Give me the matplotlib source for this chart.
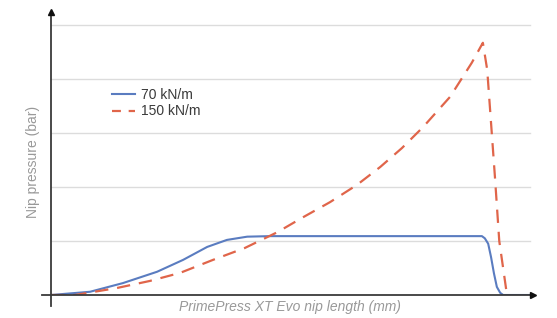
import matplotlib
matplotlib.use("Agg")
import matplotlib.pyplot as plt

# Data (arbitrary units)
x_70 = [0, 8.1, 14.9, 22.0, 27.4, 32.4, 36.5, 40.7, 45.4, 60, 75, 89.4, 90.0, 90.7, 91.3, 91.9, 92.5, 93.2, 93.8, 100]
y_70 = [0, 0.06, 0.22, 0.43, 0.65, 0.89, 1.02, 1.08, 1.09, 1.09, 1.09, 1.09, 1.05, 0.95, 0.7, 0.4, 0.15, 0.04, 0.0, 0.0]

x_150 = [0, 5, 13.7, 20.5, 26.8, 33.6, 40.2, 46.9, 52.3, 57.9, 63.5, 68.3, 72.8, 77.2, 82.8, 87.3, 89.6, 90.5, 92.1, 93.0, 94.6]
y_150 = [0, 0.0, 0.13, 0.26, 0.41, 0.65, 0.87, 1.16, 1.44, 1.72, 2.04, 2.37, 2.72, 3.11, 3.67, 4.30, 4.67, 4.17, 2.19, 1.0, 0.0]

series_labels = ["70 kN/m", "150 kN/m"]
grid_levels = [1, 2, 3, 4, 5]
x_label = "PrimePress XT Evo nip length (mm)"
y_label = "Nip pressure (bar)"

W, H = 557, 318
fig = plt.figure(figsize=(W / 100, H / 100), dpi=100)
ax = fig.add_axes([51 / W, (H - 295) / H, (533 - 51) / W, (295 - 12) / H])
ax.set_xlim(0, 100)
ax.set_ylim(0, 5.24)
for s in ax.spines.values():
    s.set_visible(False)
ax.set_xticks([])
ax.set_yticks([])

for g in grid_levels:
    ax.plot([0, 99.4], [g, g], color="#dcdcdc", lw=1.0, zorder=1)

blue = "#5a7cc0"
red = "#e0654a"
ax.plot(x_70, y_70, color=blue, lw=1.5, zorder=3, label=series_labels[0])
ax.plot(x_150, y_150, color=red, lw=1.6, ls=(0, (6, 4)), zorder=4, label=series_labels[1])

axis_col = "#3a3a3a"
ax.plot([0, 0], [-0.2, 5.24], color=axis_col, lw=1.3, clip_on=False, zorder=5)
ax.plot([-1.8, 100], [0, 0], color=axis_col, lw=1.3, clip_on=False, zorder=5)
ax.plot([0], [5.24], marker="^", color="#111", ms=5, clip_on=False, zorder=6)
ax.plot([100], [0], marker=">", color="#111", ms=5, clip_on=False, zorder=6)

# legend drawn manually
lx0, lx1 = (112 - 51) / 4.82, (135 - 51) / 4.82
ly1, ly2 = (295 - 94) / 54, (295 - 111) / 54
ax.plot([lx0, lx1], [ly1, ly1], color=blue, lw=1.5)
ax.plot([lx0, lx1], [ly2, ly2], color=red, lw=1.6, ls=(0, (4, 3.5)))
tx = (141 - 51) / 4.82
ty1, ty2 = (295 - 95) / 54, (295 - 111) / 54
ax.text(tx, ty1, series_labels[0], fontsize=10, family="Liberation Sans", color="#3a3a3a", va="center", ha="left")
ax.text(tx, ty2, series_labels[1], fontsize=10, family="Liberation Sans", color="#3a3a3a", va="center", ha="left")

fig.text(290 / W, 1 - 307 / H, x_label, fontsize=10, family="Liberation Sans", style="italic",
         color="#999999", ha="center", va="center")
fig.text(33 / W, 1 - 162 / H, y_label, fontsize=10, family="Liberation Sans", rotation=90,
         color="#999999", ha="center", va="center")

fig.savefig("out.png", dpi=100)
